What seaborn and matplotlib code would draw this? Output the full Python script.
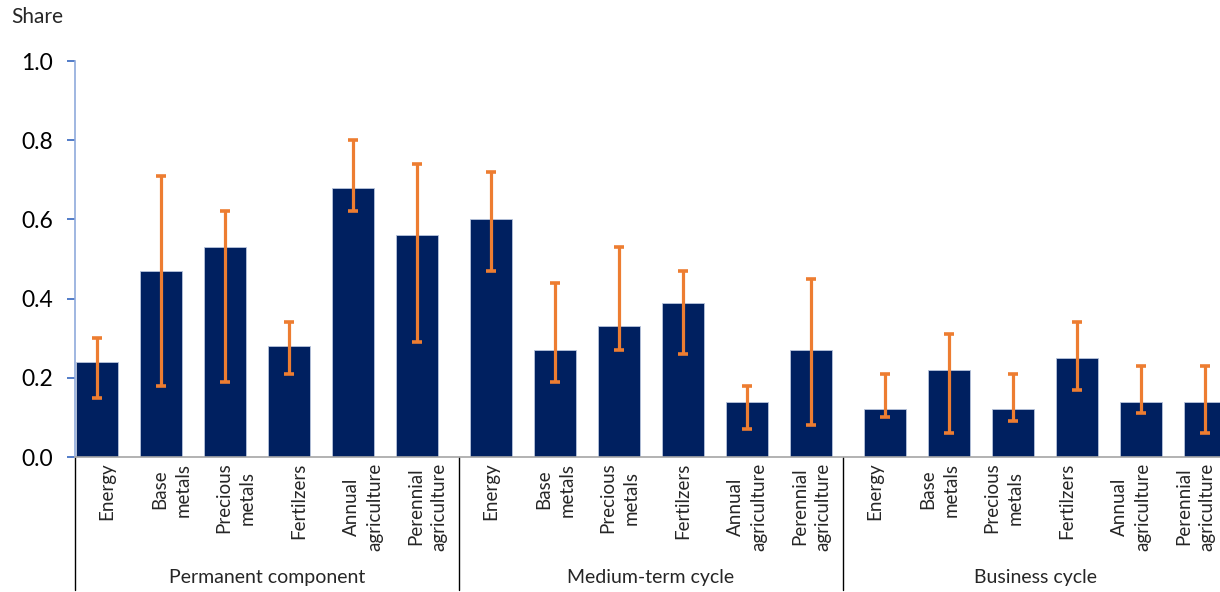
import numpy as np
import pandas as pd
import matplotlib
matplotlib.use("Agg")
import matplotlib.pyplot as plt
import matplotlib.transforms as mtransforms
import seaborn as sns

# Commodity groups and shock components
categories = ["Energy", "Base\nmetals", "Precious\nmetals", "Fertilzers",
              "Annual\nagriculture", "Perennial\nagriculture"]
components = ["Permanent component", "Medium-term cycle", "Business cycle"]

# Share of variance explained, with lower / upper bounds
permanent = [0.24, 0.47, 0.53, 0.28, 0.68, 0.56]
permanent_low = [0.15, 0.18, 0.19, 0.21, 0.62, 0.29]
permanent_high = [0.30, 0.71, 0.62, 0.34, 0.80, 0.74]

medium = [0.60, 0.27, 0.33, 0.39, 0.14, 0.27]
medium_low = [0.47, 0.19, 0.27, 0.26, 0.07, 0.08]
medium_high = [0.72, 0.44, 0.53, 0.47, 0.18, 0.45]

business = [0.12, 0.22, 0.12, 0.25, 0.14, 0.14]
business_low = [0.10, 0.06, 0.09, 0.17, 0.11, 0.06]
business_high = [0.21, 0.31, 0.21, 0.34, 0.23, 0.23]

y_ticks = [0.0, 0.2, 0.4, 0.6, 0.8, 1.0]

sns.set_style("white")
plt.rcParams["font.family"] = ["Lato", "DejaVu Sans"]

n = len(categories)
group_shift = 0.15625          # extra spacing between component blocks
label_shift = 0.15625          # category labels sit on a uniform grid

rows = []
for g, (comp, vals, lo, hi) in enumerate(zip(
        components,
        [permanent, medium, business],
        [permanent_low, medium_low, business_low],
        [permanent_high, medium_high, business_high])):
    for i, cat in enumerate(categories):
        rows.append({
            "component": comp,
            "category": cat,
            "pos": g * n + i + g * group_shift,
            "label_pos": g * n + i + label_shift,
            "share": vals[i],
            "low": lo[i],
            "high": hi[i],
        })
df = pd.DataFrame(rows)

W, H = 1220, 592
fig = plt.figure(figsize=(W / 100, H / 100), dpi=100)
ax = fig.add_axes([75 / W, 135 / H, 1152 / W, 396 / H])

sns.barplot(data=df, x="pos", y="share", native_scale=True, width=0.656,
            color="#002060", saturation=1, edgecolor="#b8c4dc", linewidth=0.6,
            errorbar=None, ax=ax)

ax.errorbar(df["pos"], df["share"],
            yerr=[df["share"] - df["low"], df["high"] - df["share"]],
            fmt="none", ecolor="#ED7D31", elinewidth=2.3,
            capsize=3.3, capthick=2.6, zorder=5)

left = -0.34375
ax.set_xlim(left, left + 3 * n)
ax.set_ylim(0, 1.0)

ax.set_yticks(y_ticks)
ax.set_yticklabels([f"{t:.1f}" for t in y_ticks])
ax.tick_params(axis="y", left=True, direction="out", length=6, width=1.3,
               color="#4472C4", pad=10, labelsize=16.5, labelcolor="black")

ax.set_xticks(df["label_pos"])
ax.set_xticklabels(df["category"], rotation=90, va="top", ha="center",
                   multialignment="center", fontsize=13.5, linespacing=1.45)
ax.tick_params(axis="x", bottom=False, length=0, pad=4)
ax.set_xlabel("")
ax.set_ylabel("")

sns.despine(ax=ax, top=True, right=True)
ax.spines["left"].set_color("#8FAADC")
ax.spines["left"].set_linewidth(1.2)
ax.spines["bottom"].set_color("#A6A6A6")
ax.spines["bottom"].set_linewidth(1.2)

# Block separators under the axis and component names
trans = mtransforms.blended_transform_factory(ax.transData, ax.transAxes)
bottom = -(590 - 457) / 396
for k in range(3):
    xb = left + k * n
    ax.plot([xb, xb], [0, bottom], transform=trans, color="black",
            lw=1.0, clip_on=False)
    ax.text(xb + n / 2, -(577 - 457) / 396, components[k], transform=trans,
            ha="center", va="center", fontsize=14)

fig.text(11 / W, 1 - 17 / H, "Share", ha="left", va="center", fontsize=15)

fig.savefig("out.png", dpi=100)
